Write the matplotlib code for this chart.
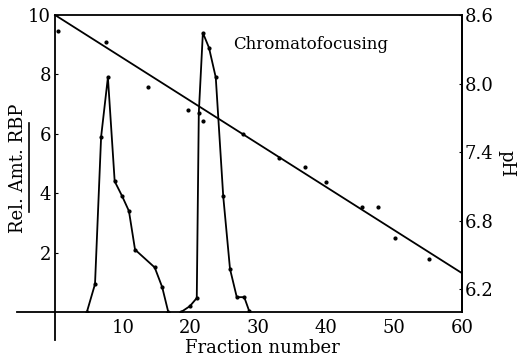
import numpy as np
import matplotlib
matplotlib.use("Agg")
import matplotlib.pyplot as plt
from matplotlib.lines import Line2D

# RBP elution profile (left axis)
frac_rbp = [4.7, 5.9, 6.8, 7.8, 8.8, 9.9, 10.9, 11.8, 14.7, 15.8, 16.7]
rbp_peak1 = [0.0, 0.94, 5.9, 7.9, 4.4, 3.9, 3.4, 2.1, 1.5, 0.84, 0.0]
frac_rbp2 = [18.6, 19.9, 20.9, 21.2, 21.8, 22.7, 23.7, 24.8, 25.8, 26.8, 27.9, 28.6]
rbp_peak2 = [0.0, 0.2, 0.47, 6.7, 9.4, 8.9, 7.9, 3.9, 1.45, 0.5, 0.5, 0.05]

# measured pH (right axis)
frac_ph = [0.5, 7.5, 13.7, 19.6, 21.8, 27.7, 33.0, 36.9, 40.0, 45.3, 47.6, 50.1, 55.2]
ph_meas = [8.46, 8.36, 7.97, 7.77, 7.67, 7.56, 7.35, 7.27, 7.14, 6.92, 6.92, 6.65, 6.46]

# fitted pH gradient
frac_fit = [0, 60]
ph_fit = [8.6, 6.34]

plt.rcParams["font.family"] = "DejaVu Serif"

fig = plt.figure(figsize=(5.23, 3.60), dpi=100)
W, H = 523, 360
ax = fig.add_axes([17 / W, (H - 312) / H, (462 - 17) / W, (312 - 15) / H])

ax.plot(frac_rbp, rbp_peak1, "k-", lw=1.3, marker="o", ms=2)
ax.plot(frac_rbp2, rbp_peak2, "k-", lw=1.3, marker="o", ms=2)

ax.set_xlim(-5.6, 60)
ax.set_ylim(0, 10)
ax.spines["left"].set_position(("data", 0))
ax.spines["left"].set_bounds(-0.95, 10)
ax.spines["top"].set_bounds(0, 60)
for s in ax.spines.values():
    s.set_linewidth(1.3)

ax.set_xticks([10, 20, 30, 40, 50, 60])
ax.set_yticks([2, 4, 6, 8, 10])
ax.tick_params(axis="both", direction="in", length=2, labelsize=13, pad=3)
ax.tick_params(axis="x", length=0, pad=5)

ax2 = ax.twinx()
ax2.set_ylim(6.0, 8.6)
ax2.plot(frac_fit, ph_fit, "k-", lw=1.3)
ax2.plot(frac_ph, ph_meas, "ko", ms=2.0, ls="none")
ax2.set_yticks([6.2, 6.8, 7.4, 8.0, 8.6])
ax2.set_yticklabels(["6.2", "6.8", "7.4", "8.0", "8.6"])
ax2.tick_params(axis="y", direction="in", length=2, labelsize=13, pad=2)
for s in ax2.spines.values():
    s.set_visible(False)
ax2.spines["right"].set_visible(True)
ax2.spines["right"].set_linewidth(1.3)
ax2.set_ylabel("pH", fontsize=13, rotation=270, labelpad=16)

ax.text(0.66, 0.9, "Chromatofocusing", transform=ax.transAxes,
        fontsize=12, ha="center", va="center")

fig.text(262 / W, 1 - 348 / H, "Fraction number", fontsize=13,
         ha="center", va="center")
fig.text(18 / W, 1 - 168 / H, "Rel. Amt. RBP", rotation=90,
         fontsize=13, ha="center", va="center")
fig.add_artist(Line2D([29 / W, 29 / W], [1 - 123 / H, 1 - 212 / H],
                      color="k", lw=1.2))

fig.savefig("out.png", dpi=100)
